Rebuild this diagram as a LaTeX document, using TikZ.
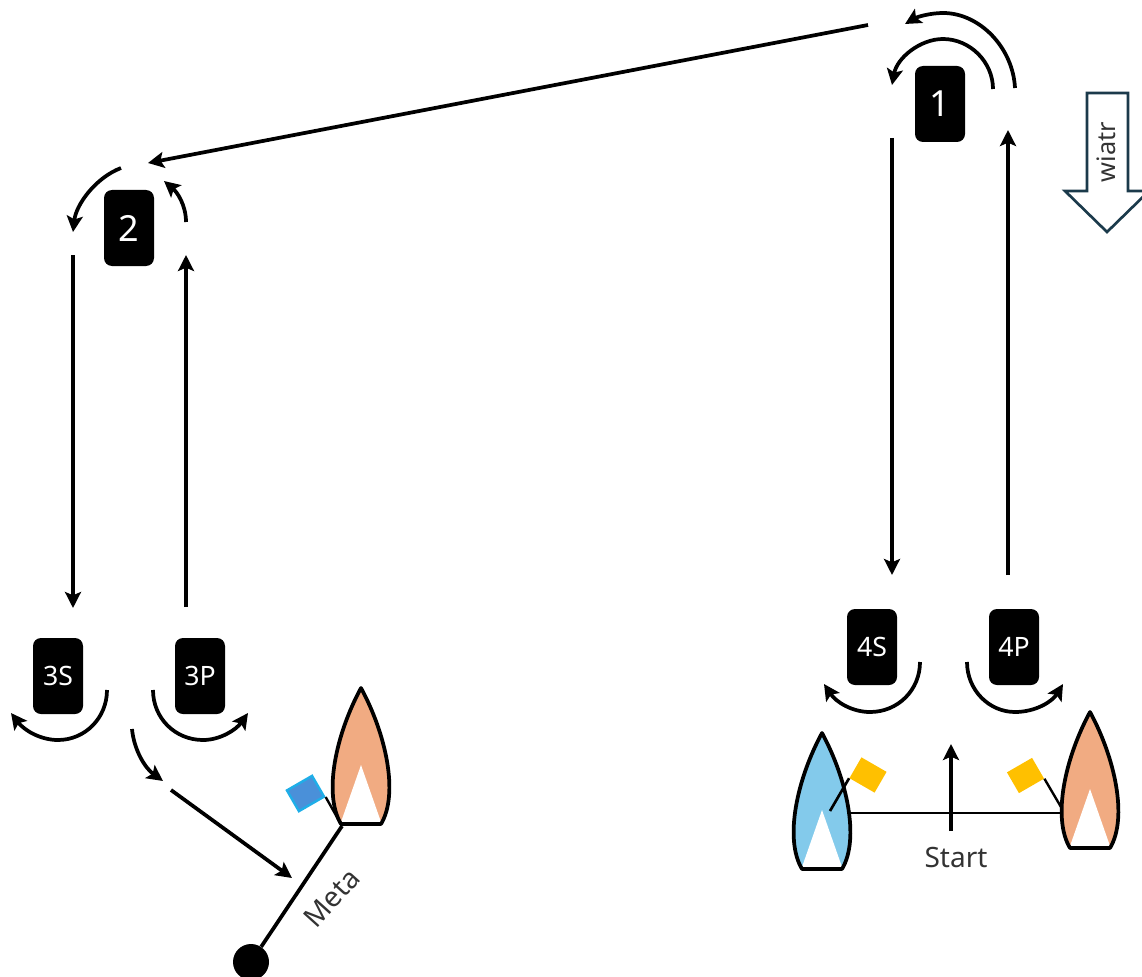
\documentclass[tikz,border=0pt]{standalone}
\usepackage{fontspec}
\setmainfont{Noto Sans}
\usepackage{tikz}
\usetikzlibrary{positioning,arrows.meta}
\definecolor{hullblue}{HTML}{83CAEB}
\definecolor{hullorange}{HTML}{F1AB82}
\definecolor{flagyellow}{HTML}{FFC000}
\definecolor{flagblue}{HTML}{4A90D9}
\definecolor{flagedge}{HTML}{1EAEE8}
\definecolor{windline}{HTML}{1B3A4B}
\definecolor{labelgrey}{HTML}{333333}

\begin{document}
\begin{tikzpicture}[x=0.75pt,y=-0.75pt,node distance=106.5pt,on grid,
    buoy/.style={rectangle,rounded corners=6pt,fill=black,text=white,inner sep=0pt,
        minimum width=37.5pt,minimum height=57pt},
    bigbuoy/.style={buoy,font=\fontsize{27}{27}\selectfont},
    smallbuoy/.style={buoy,font=\fontsize{20}{20}\selectfont},
    flow/.style={line width=2.8pt,-{Stealth[length=12pt,width=12pt,inset=2.5pt]}},
    flag/.style={rectangle,inner sep=0pt,minimum width=21.75pt,minimum height=18pt},
    caption/.style={text=labelgrey,font=\fontsize{21}{21}\selectfont,inner sep=0pt},
    pics/boat/.style={code={
        \fill[#1] (-20,0) .. controls (-38,-30) and (-25,-90) .. (0,-136)
            .. controls (25,-90) and (38,-30) .. (20,0) -- cycle;
        \fill[white] (0,-59) -- (20,-2) -- (-20,-2) -- cycle;
        \draw[line width=2.8pt,line join=round] (-20,0) .. controls (-38,-30) and (-25,-90) .. (0,-136)
            .. controls (25,-90) and (38,-30) .. (20,0) -- cycle;
    }}]
    \useasboundingbox (0,0) rectangle (1142,977);

    \node[bigbuoy] (b1) at (940,104) {1};
    \node[bigbuoy] (b2) at (129,228) {2};
    \node[smallbuoy] (b3s) at (58,676) {3S};
    \node[smallbuoy] (b3p) [right of=b3s] {3P};
    \node[smallbuoy] (b4s) at (872,647) {4S};
    \node[smallbuoy] (b4p) [right of=b4s] {4P};

    \coordinate (a1in) at (1008,575);
    \coordinate (a1out) at (1008,130);
    \coordinate (outerfrom) at (1015,88);
    \coordinate (outerto) at (905,24);
    \coordinate (innerfrom) at (993,89);
    \coordinate (innerto) at (892,85);
    \coordinate (legfrom) at (868,25);
    \coordinate (legto) at (148,163);
    \coordinate (a1down) at (892,138);
    \coordinate (a4top) at (892,575);
    \coordinate (a3up) at (186,607);
    \coordinate (a2up) at (186,255);
    \coordinate (a2down) at (73,255);
    \coordinate (a3top) at (73,608);

    \draw[flow] (a1in) -- (a1out);
    \draw[flow] (outerfrom) .. controls (1013,48) and (980,13) .. (943,13)
        .. controls (930,13) and (917,17) .. (outerto);
    \draw[flow] (innerfrom) .. controls (993,62) and (970,39) .. (943,39)
        .. controls (920,39) and (897,58) .. (innerto);
    \draw[flow] (legfrom) -- (legto);
    \draw[flow] (a1down) -- (a4top);
    \draw[flow] (a3up) -- (a2up);
    \draw[flow] (a2down) -- (a3top);
    \draw[flow] (121,168) .. controls (95,178) and (76,205) .. (73,232);
    \draw[flow] (186,222) .. controls (186,205) and (177,192) .. (164,181);

    \draw[flow] (107,690) .. controls (107,718) and (85,740) .. (58,740)
        .. controls (40,740) and (24,730) .. (11,713);
    \draw[flow] (153,690) .. controls (153,718) and (175,740) .. (203,740)
        .. controls (220,740) and (236,730) .. (248,713);
    \draw[flow] (920,662) .. controls (920,690) and (898,712) .. (870,712)
        .. controls (852,712) and (836,702) .. (824,684);
    \draw[flow] (967,662) .. controls (967,690) and (989,712) .. (1015,712)
        .. controls (1035,712) and (1052,702) .. (1063,684);
    \draw[flow] (132,729) .. controls (134,750) and (145,768) .. (163,781);
    \draw[flow] (171,790) -- (292,878);

    \pic at (361,824) {boat=hullorange};
    \pic at (822,869) {boat=hullblue};
    \pic at (1090,848) {boat=hullorange};

    \node[circle,fill=black,inner sep=0pt,minimum size=27pt] (pin) at (251,962) {};
    \coordinate (finish) at (342,826);
    \draw[line width=2.8pt] (finish) -- (pin);
    \node[caption,rotate=48] (meta) at (332,898) {Meta};

    \node[flag,fill=flagblue,draw=flagedge,line width=1.8pt,rotate=30] (flagfin) at (305.5,793.5) {};
    \draw[line width=1.8pt] (flagfin.south east) -- (finish);

    \node[flag,fill=flagyellow,rotate=-30] (flagl) at (868,775) {};
    \node[flag,fill=flagyellow,rotate=30] (flagr) at (1025.5,775.5) {};
    \coordinate (polel) at (830,811);
    \coordinate (poler) at (1061,807);
    \draw[line width=2pt] (flagl.south west) -- (polel);
    \draw[line width=1.8pt] (flagr.south east) -- (poler);

    \coordinate (linel) at (848,813);
    \coordinate (liner) at (1063,813);
    \draw[line width=1.6pt] (linel) -- (liner);
    \coordinate (starttail) at (951,831);
    \coordinate (starttip) at (951,744);
    \draw[flow] (starttail) -- (starttip);
    \node[caption] (start) at (956,857) {Start};

    \draw[windline,line width=2pt,fill=white] (1087,93) -- (1128,93) -- (1128,191) -- (1149,191)
        -- (1107,232) -- (1065,191) -- (1087,191) -- cycle;
    \node[caption,rotate=90,font=\fontsize{19}{19}\selectfont] (wiatr) at (1106,152) {wiatr};
\end{tikzpicture}
\end{document}
